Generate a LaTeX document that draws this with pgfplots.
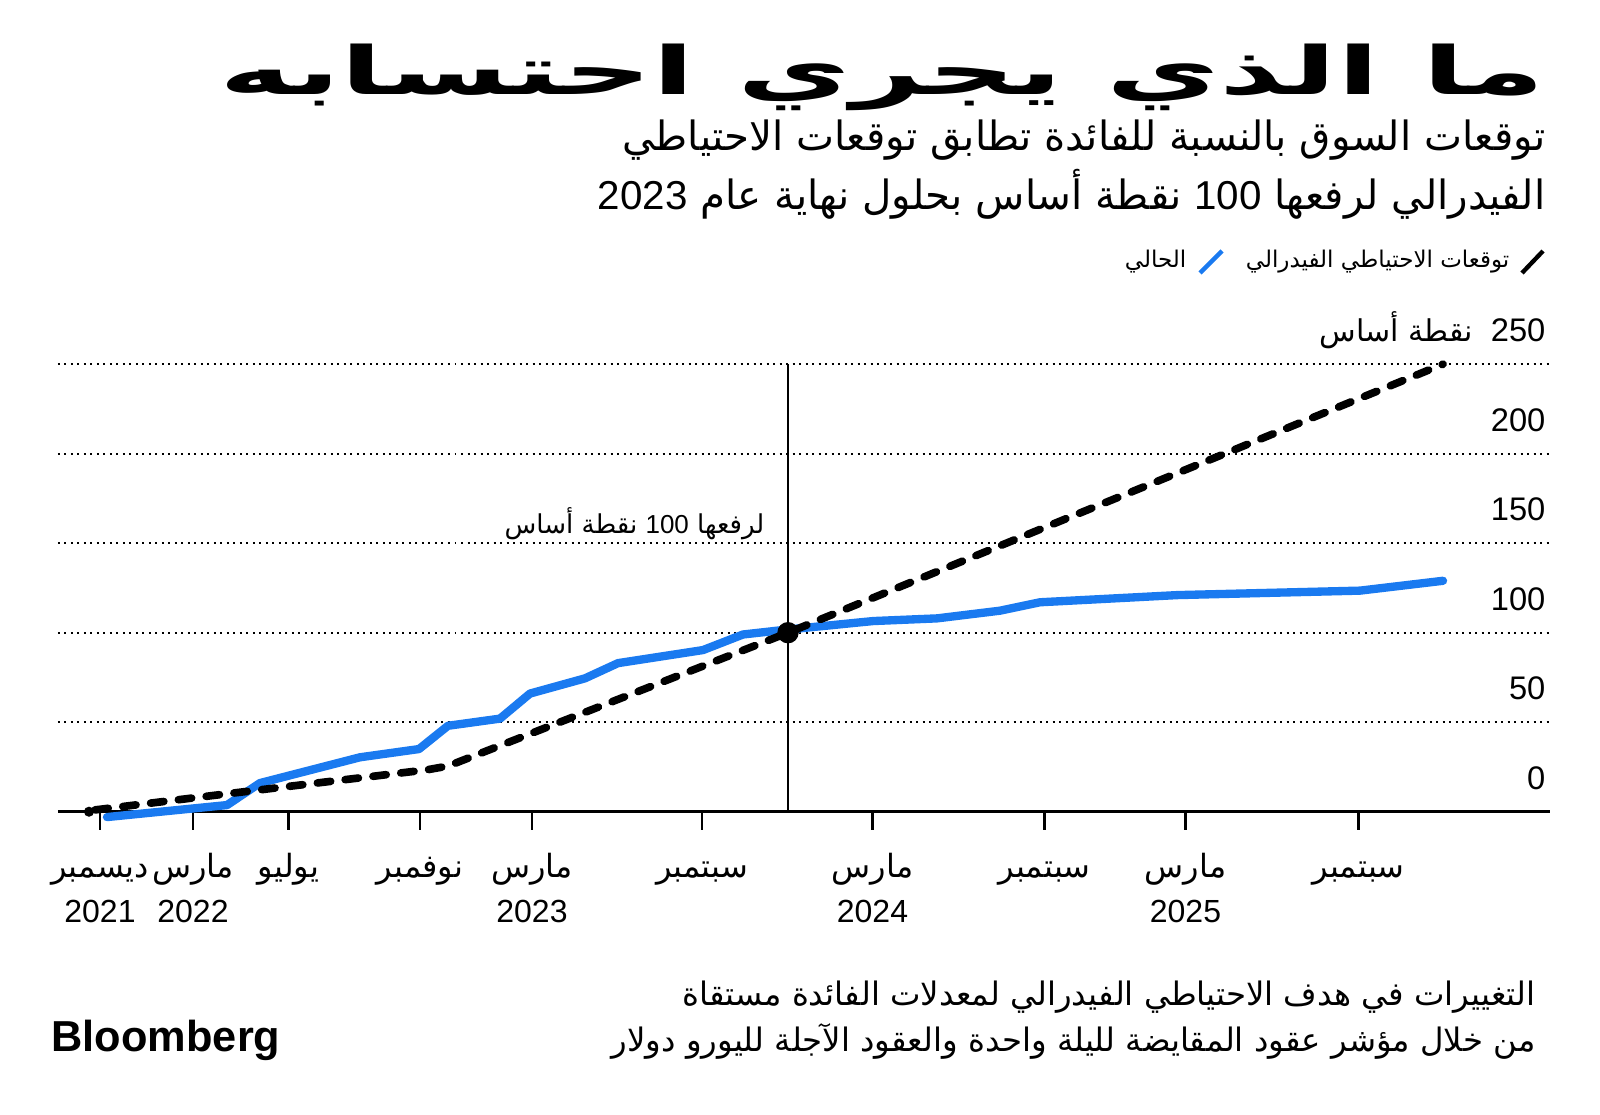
\documentclass[border=0pt]{standalone}
\usepackage{pgfplots}
\pgfplotsset{compat=1.18}
\usepackage{fontspec}
\setmainfont{Liberation Sans}
\newfontfamily\ar[Script=Arabic]{DejaVu Sans}
\TeXXeTstate=1
\definecolor{bblue}{RGB}{26,122,240}
\newcommand\st{\rule{0pt}{10pt}}
\begin{document}
\begin{tikzpicture}
\path[use as bounding box] (0pt,0pt) rectangle (480pt,-334.5pt);
\begin{axis}[
  at={(17.4pt,-243.51pt)}, anchor=south west,
  x=0.3pt, y=0.537pt,
  xmin=58, xmax=1550, ymin=0, ymax=250,
  clip=false,
  axis x line*=bottom, axis y line=none,
  x axis line style={line width=1.05pt},
  xtick={100,193,288.5,420,532,702,872.5,1044.5,1185.5,1358.5},
  xticklabels={{\st\ar\beginR ديسمبر\endR\\2021},{\st\ar\beginR مارس\endR\\2022},{\st\ar\beginR يوليو\endR},{\st\ar\beginR نوفمبر\endR},{\st\ar\beginR مارس\endR\\2023},{\st\ar\beginR سبتمبر\endR},{\st\ar\beginR مارس\endR\\2024},{\st\ar\beginR سبتمبر\endR},{\st\ar\beginR مارس\endR\\2025},{\st\ar\beginR سبتمبر\endR}},
  tick align=outside,
  major tick length=5.4pt,
  xtick style={line width=0.8pt, black},
  xticklabel style={font=\fontsize{9.6}{13.6}\selectfont, align=center, anchor=north, inner sep=0pt, yshift=-4pt},
]
\draw[line width=0.6pt, dash pattern=on 0.6pt off 1.35pt] (axis cs:58,50) -- (axis cs:1550,50);
\draw[line width=0.6pt, dash pattern=on 0.6pt off 1.35pt] (axis cs:58,100) -- (axis cs:1550,100);
\draw[line width=0.6pt, dash pattern=on 0.6pt off 1.35pt] (axis cs:58,150) -- (axis cs:1550,150);
\draw[line width=0.6pt, dash pattern=on 0.6pt off 1.35pt] (axis cs:58,200) -- (axis cs:1550,200);
\draw[line width=0.6pt, dash pattern=on 0.6pt off 1.35pt] (axis cs:58,250) -- (axis cs:1550,250);
\draw[line width=0.75pt] (axis cs:788,0) -- (axis cs:788,250);
\addplot[bblue, line width=2.5pt, line join=round, line cap=round] coordinates {
(107,-3) (227,3.7) (260,16) (360,30.4) (419,35) (448,48) (500,52) (530,66) (585,74.5) (618,83) (703,90.3) (743,99) (783,101.5) (873,106.5) (937,108) (1000,112.3) (1040,117) (1177,121) (1360,123.5) (1443,129)
};
\addplot[black, line width=2.3pt, line cap=round, dash pattern=on 4pt off 4.4pt] coordinates {
(95,1) (227,10) (427,23.4) (448,25.5) (788,100) (1443,250)
};
\addplot[only marks, mark=*, mark size=1.3pt, black] coordinates {(89,0)};
\addplot[only marks, mark=*, mark size=3pt, black] coordinates {(788,100)};
\end{axis}
\begin{scope}[x=0.3pt, y=-0.3pt]
\node[anchor=base east, inner sep=0pt] at (1546,94) {\scalebox{1.95}[1.05]{\fontsize{19}{19}\selectfont\ar\bfseries\beginR ما الذي يجري احتسابه\endR}};
\node[anchor=base east, inner sep=0pt] at (1546,150) {\fontsize{12.1}{12}\selectfont\ar\beginR توقعات السوق بالنسبة للفائدة تطابق توقعات الاحتياطي\endR};
\node[anchor=base east, inner sep=0pt] at (1546,209) {\fontsize{12.1}{12}\selectfont\ar\beginR الفيدرالي لرفعها {\rmfamily\beginL 100\endL} نقطة أساس بحلول نهاية عام {\rmfamily\beginL 2023\endL}\endR};
\draw[line width=1.3pt, black] (1522,273) -- (1543,251);
\node[anchor=base east, inner sep=0pt] at (1510,267) {\fontsize{6.9}{7}\selectfont\ar\beginR توقعات الاحتياطي الفيدرالي\endR};
\draw[line width=1.3pt, bblue] (1200,273) -- (1222,251);
\node[anchor=base east, inner sep=0pt] at (1187,267) {\fontsize{6.9}{7}\selectfont\ar\beginR الحالي\endR};
\node[anchor=base east, inner sep=0pt] at (1546,341) {\fontsize{9.8}{10}\selectfont\beginR{\beginL 250\endL}\ \ {\fontsize{9}{9}\selectfont\ar نقطة أساس}\endR};
\node[anchor=base east, inner sep=0pt] at (1546,431) {\fontsize{9.8}{10}\selectfont 200};
\node[anchor=base east, inner sep=0pt] at (1546,520) {\fontsize{9.8}{10}\selectfont 150};
\node[anchor=base east, inner sep=0pt] at (1546,610) {\fontsize{9.8}{10}\selectfont 100};
\node[anchor=base east, inner sep=0pt] at (1546,699) {\fontsize{9.8}{10}\selectfont 50};
\node[anchor=base east, inner sep=0pt] at (1546,789) {\fontsize{9.8}{10}\selectfont 0};
\node[anchor=base east, inner sep=0pt] at (765,533) {\fontsize{7.8}{8}\selectfont\ar\beginR لرفعها {\rmfamily\beginL 100\endL} نقطة أساس\endR};
\node[anchor=base east, inner sep=0pt] at (1536,1005) {\fontsize{9.7}{10}\selectfont\ar\beginR التغييرات في هدف الاحتياطي الفيدرالي لمعدلات الفائدة مستقاة\endR};
\node[anchor=base east, inner sep=0pt] at (1536,1051) {\fontsize{9.7}{10}\selectfont\ar\beginR من خلال مؤشر عقود المقايضة لليلة واحدة والعقود الآجلة لليورو دولار\endR};
\node[anchor=base west, inner sep=0pt] at (51,1051) {\fontsize{13}{13}\selectfont\bfseries Bloomberg};
\end{scope}
\end{tikzpicture}
\end{document}
